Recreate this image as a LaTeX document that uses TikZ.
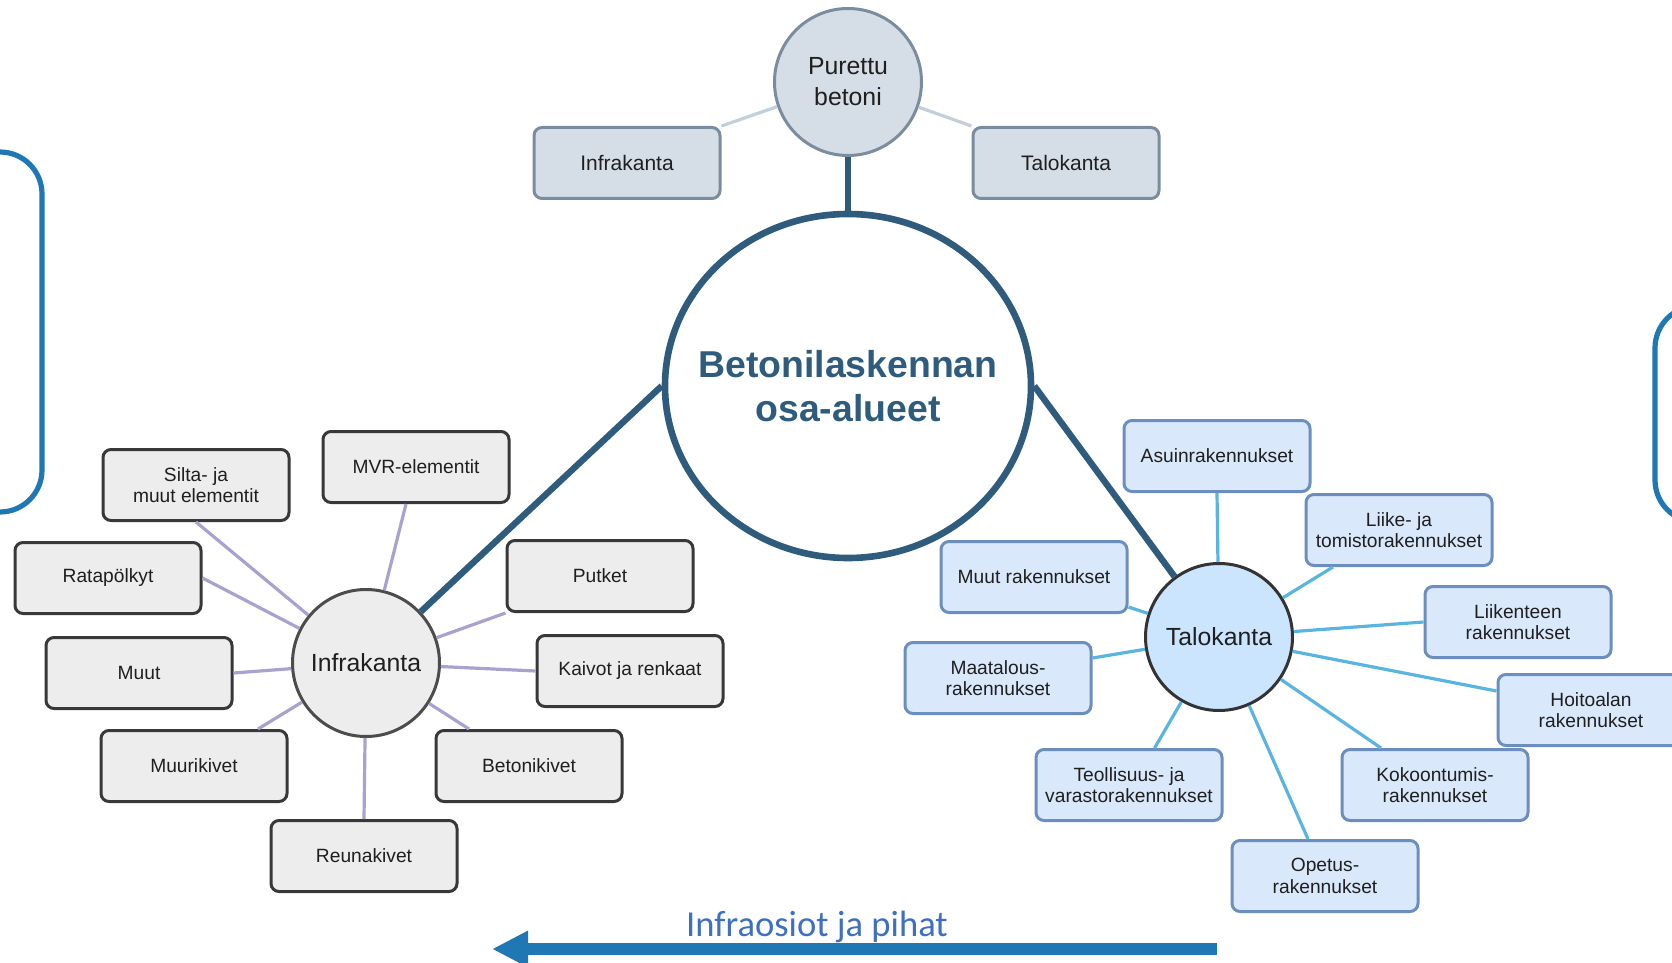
\documentclass[tikz,border=0pt]{standalone}
\usepackage{fontspec}
\setmainfont{Liberation Sans}
\newfontfamily\carlito{Carlito}
\usetikzlibrary{positioning,arrows.meta,shapes.geometric}
\definecolor{tumma}{HTML}{2F5B7C}
\definecolor{ylafill}{HTML}{D5DEE6}
\definecolor{ylaraja}{HTML}{7A8C9E}
\definecolor{ylaviiva}{HTML}{C3CFDA}
\definecolor{infrafill}{HTML}{EDEDED}
\definecolor{infraraja}{HTML}{383838}
\definecolor{laventeli}{HTML}{A8A2CF}
\definecolor{talofill}{HTML}{DAE8FC}
\definecolor{taloraja}{HTML}{6C8EBF}
\definecolor{talopallo}{HTML}{CCE5FF}
\definecolor{taivas}{HTML}{5AB4E0}
\definecolor{sininen}{HTML}{1F78B4}
\definecolor{tekstisin}{HTML}{3E6FC2}

\begin{document}
\begin{tikzpicture}[x=0.5pt, y=-0.5pt, every node/.style={align=center, text=black!88},
  laatikko/.style={draw, rounded corners=4pt, line width=1.5pt, minimum width=93pt, minimum height=35.5pt,
    font=\fontsize{9.6}{10.8}\selectfont},
  yla/.style={laatikko, fill=ylafill, draw=ylaraja, font=\fontsize{10.5}{12}\selectfont},
  infra/.style={laatikko, fill=infrafill, draw=infraraja},
  talo/.style={laatikko, fill=talofill, draw=taloraja},
  pallo/.style={circle, draw, line width=1.5pt, minimum size=73.5pt,
    font=\fontsize{12.4}{15.5}\selectfont},
  keskus/.style={ellipse, draw=tumma, line width=3.3pt, minimum width=183pt, minimum height=172pt, fill=white},
  keskteksti/.style={text=tumma, font=\bfseries\fontsize{18.7}{21.9}\selectfont},
  paksu/.style={draw=tumma, line width=3.2pt},
  ohut/.style={line width=1.6pt},
  hakasulku/.style={draw=sininen, line width=2.6pt, rounded corners=21pt},
  nuoli/.style={draw=sininen, line width=6pt, -{Triangle[length=18pt, width=17pt]}}]
\useasboundingbox (0,0) rectangle (1672,963);
\clip (0,0) rectangle (1672,963);

% reunojen sulut
\draw[hakasulku] (-80,152) rectangle (42,512);
\draw[hakasulku] (1655,306) rectangle (1780,522);

% keskusta ja purettu betoni
\node[keskus, label={[keskteksti]center:Betonilaskennan\\osa-alueet}] (kesk) at (848,386) {};
\node[pallo, fill=ylafill, draw=ylaraja] (pur) at (848,82) {Purettu\\betoni};
\node[yla] (yinfra) at (627,163) {Infrakanta};
\node[yla] (ytalo) at (1066,163) {Talokanta};
\draw[ohut, ylaviiva] (yinfra.north east) -- (pur);
\draw[ohut, ylaviiva] (ytalo.north west) -- (pur);
\draw[paksu, line width=2.8pt] (pur) -- (kesk);

% infrakanta
\node[pallo, fill=infrafill, draw=infraraja!90] (inf) at (366,663) {Infrakanta};
\node[infra] (silta) at (196,485) {Silta- ja\\muut elementit};
\node[infra] (mvr) at (416,467) {MVR-elementit};
\node[infra] (rata) at (108,578) {Ratapölkyt};
\node[infra] (putket) at (600,576) {Putket};
\node[infra] (muut) at (139,673) {Muut};
\node[infra] (kaivot) at (630,671) {Kaivot ja renkaat};
\node[infra] (muuri) at (194,766) {Muurikivet};
\node[infra] (beton) at (529,766) {Betonikivet};
\node[infra] (reuna) at (364,856) {Reunakivet};
\draw[ohut, laventeli] (silta.south) -- (inf);
\draw[ohut, laventeli] ([xshift=-5pt]mvr.south) -- (inf);
\draw[ohut, laventeli] (rata.east) -- (inf);
\draw[ohut, laventeli] (putket.south west) -- (inf);
\draw[ohut, laventeli] (muut.east) -- (inf);
\draw[ohut, laventeli] (kaivot.west) -- (inf);
\draw[ohut, laventeli] ([xshift=32pt]muuri.north) -- (inf);
\draw[ohut, laventeli] ([xshift=-30pt]beton.north) -- (inf);
\draw[ohut, laventeli] (reuna.north) -- (inf);
\draw[paksu] (kesk.west) -- (inf);

% talokanta
\node[pallo, fill=talopallo, draw=black!80] (tal) at (1219,637) {Talokanta};
\node[talo] (asuin) at (1217,456) {Asuinrakennukset};
\node[talo] (liike) at (1399,530) {Liike- ja\\tomistorakennukset};
\node[talo] (muutrak) at (1034,577) {Muut rakennukset};
\node[talo] (liik) at (1518,622) {Liikenteen\\rakennukset};
\node[talo] (maa) at (998,678) {Maatalous-\\rakennukset};
\node[talo] (hoito) at (1591,710) {Hoitoalan\\rakennukset};
\node[talo] (teol) at (1129,785) {Teollisuus- ja\\varastorakennukset};
\node[talo] (koko) at (1435,785) {Kokoontumis-\\rakennukset};
\node[talo] (opetus) at (1325,876) {Opetus-\\rakennukset};
\draw[ohut, taivas] (asuin.south) -- (tal);
\draw[ohut, taivas] ([xshift=-33pt]liike.south) -- (tal);
\draw[ohut, taivas] ([yshift=-15pt]muutrak.east) -- (tal);
\draw[ohut, taivas] (liik.west) -- (tal);
\draw[ohut, taivas] ([yshift=10pt]maa.east) -- (tal);
\draw[ohut, taivas] ([yshift=9.5pt]hoito.west) -- (tal);
\draw[ohut, taivas] ([xshift=12.8pt]teol.north) -- (tal);
\draw[ohut, taivas] ([xshift=-27pt]koko.north) -- (tal);
\draw[ohut, taivas] ([xshift=-8.5pt]opetus.north) -- (tal);
\draw[paksu] (kesk.east) -- (tal);

% alareunan nuoli
\node[anchor=base, text=tekstisin, font=\carlito\fontsize{18.3}{22}\selectfont] (pihat) at (817,936) {Infraosiot ja pihat};
\coordinate (nalku) at (1217,949);
\coordinate (nkarki) at (492,949);
\draw[nuoli] (nalku) -- (nkarki);
\end{tikzpicture}
\end{document}
